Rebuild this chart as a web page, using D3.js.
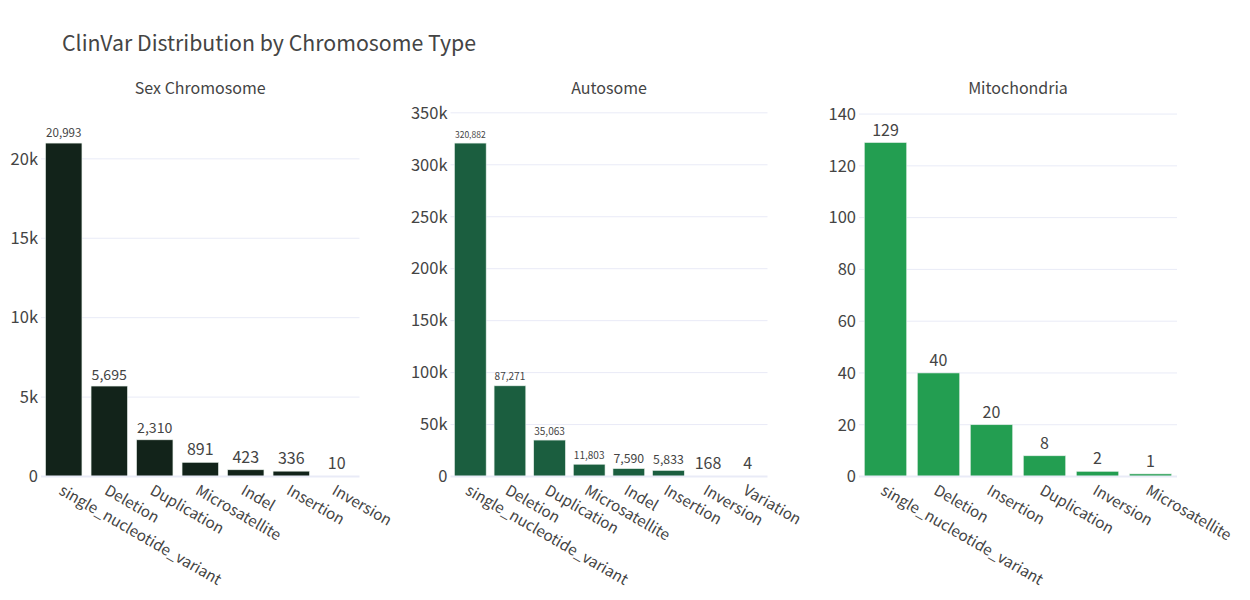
<!DOCTYPE html>
<html>
<head>
<meta charset="utf-8">
<script src="https://cdn.jsdelivr.net/npm/d3@7"></script>
<style>
  body { margin: 0; background: #fff; }
  text { font-family: "Noto Sans CJK KR", "Noto Sans", sans-serif; fill: #444; }
</style>
</head>
<body>
<div id="chart"></div>
<script>
// Данные по типам хромосом
const sexCategories = ["single_nucleotide_variant", "Deletion", "Duplication", "Microsatellite", "Indel", "Insertion", "Inversion"];
const sexValues = [20993, 5695, 2310, 891, 423, 336, 10];

const autosomeCategories = ["single_nucleotide_variant", "Deletion", "Duplication", "Microsatellite", "Indel", "Insertion", "Inversion", "Variation"];
const autosomeValues = [320882, 87271, 35063, 11803, 7590, 5833, 168, 4];

const mitoCategories = ["single_nucleotide_variant", "Deletion", "Insertion", "Duplication", "Inversion", "Microsatellite"];
const mitoValues = [129, 40, 20, 8, 2, 1];

const sexTicks = [0, 5000, 10000, 15000, 20000];
const autosomeTicks = [0, 50000, 100000, 150000, 200000, 250000, 300000, 350000];
const mitoTicks = [0, 20, 40, 60, 80, 100, 120, 140];

const width = 1250;
const height = 600;
const plotTop = 112;
const plotBottom = 476.5;

const svg = d3.select("#chart").append("svg")
    .attr("width", width)
    .attr("height", height);

// Заголовок
svg.append("text")
    .attr("x", 62)
    .attr("y", 51)
    .style("font-size", "21.3px")
    .text("ClinVar Distribution by Chromosome Type");

// Описание панелей
const panels = [
    { title: "Sex Chromosome", cats: sexCategories, vals: sexValues, ticks: sexTicks, yMax: 22950, x0: 41, x1: 359.5, color: "#12231a", kFormat: true },
    { title: "Autosome", cats: autosomeCategories, vals: autosomeValues, ticks: autosomeTicks, yMax: 350800, x0: 450.5, x1: 767.5, color: "#1b5e3f", kFormat: true },
    { title: "Mitochondria", cats: mitoCategories, vals: mitoValues, ticks: mitoTicks, yMax: 140.8, x0: 859, x1: 1177, color: "#239e51", kFormat: false }
];

const numFormat = d3.format(",");

panels.forEach(p => {
    const xScale = d3.scaleBand()
        .domain(p.cats)
        .range([p.x0, p.x1])
        .paddingInner(0.2)
        .paddingOuter(0.1);

    const yScale = d3.scaleLinear()
        .domain([0, p.yMax])
        .range([plotBottom, plotTop]);

    const g = svg.append("g");

    // Заголовок панели
    g.append("text")
        .attr("x", (p.x0 + p.x1) / 2)
        .attr("y", 94)
        .attr("text-anchor", "middle")
        .style("font-size", "16px")
        .text(p.title);

    // Сетка
    g.selectAll(".grid")
        .data(p.ticks.filter(t => t > 0))
        .enter()
        .append("line")
        .attr("x1", p.x0)
        .attr("x2", p.x1)
        .attr("y1", d => yScale(d))
        .attr("y2", d => yScale(d))
        .attr("stroke", "#e9ebf7")
        .attr("stroke-width", 1);

    // Ось Y
    const yAxis = d3.axisLeft(yScale)
        .tickValues(p.ticks)
        .tickSize(0)
        .tickPadding(3)
        .tickFormat(d => (p.kFormat && d > 0) ? (d / 1000) + "k" : d);

    g.append("g")
        .attr("transform", `translate(${p.x0}, 0)`)
        .call(yAxis)
        .call(a => a.select(".domain").remove())
        .call(a => a.selectAll("text").style("font-size", "16.5px").attr("fill", "#444"));

    // Столбцы
    g.selectAll(".bar")
        .data(p.vals)
        .enter()
        .append("rect")
        .attr("x", (d, i) => xScale(p.cats[i]))
        .attr("y", d => yScale(d))
        .attr("width", xScale.bandwidth())
        .attr("height", d => plotBottom - yScale(d))
        .attr("fill", p.color)
        .attr("stroke", "#e6efe9")
        .attr("stroke-width", 0.6);

    // Нулевая линия
    g.append("line")
        .attr("x1", p.x0)
        .attr("x2", p.x1)
        .attr("y1", yScale(0))
        .attr("y2", yScale(0))
        .attr("stroke", "#e9ebf7")
        .attr("stroke-width", 2);

    // Подписи значений
    g.selectAll(".val")
        .data(p.vals)
        .enter()
        .append("text")
        .attr("text-anchor", "middle")
        .attr("x", (d, i) => xScale(p.cats[i]) + xScale.bandwidth() / 2)
        .style("font-size", "16px")
        .text(d => numFormat(d))
        .each(function (d) {
            const w = this.getComputedTextLength();
            const size = Math.min(16, 16 * (xScale.bandwidth() - 1) / w);
            d3.select(this)
                .style("font-size", size + "px")
                .attr("y", yScale(d) - 3 - size * 0.25);
        });

    // Подписи категорий
    g.selectAll(".cat")
        .data(p.cats)
        .enter()
        .append("text")
        .attr("transform", d => `translate(${xScale(d) + xScale.bandwidth() / 2}, ${plotBottom + 7}) rotate(30)`)
        .attr("dy", "0.75em")
        .attr("text-anchor", "start")
        .style("font-size", "15.2px")
        .text(d => d);
});
</script>
</body>
</html>
